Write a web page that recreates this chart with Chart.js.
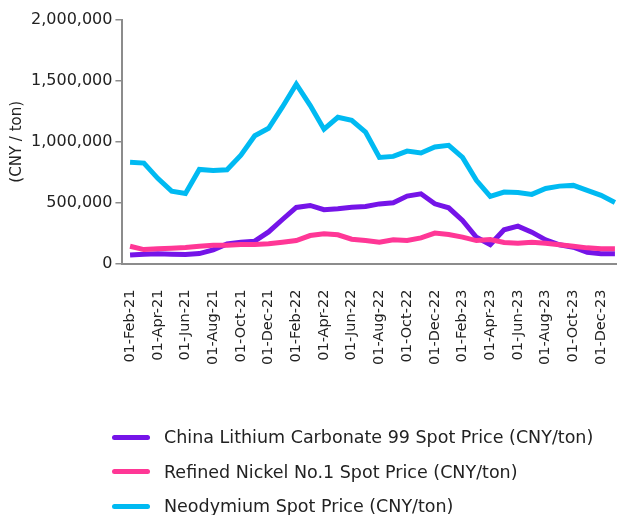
<!DOCTYPE html>
<html>
<head>
<meta charset="utf-8">
<script src="https://cdn.jsdelivr.net/npm/chart.js@4.4.1/dist/chart.umd.min.js"></script>
<style>
    html, body { margin: 0; padding: 0; background: #fff; }
    #wrap { position: relative; width: 617px; height: 515px; }
    #legend { position: absolute; left: 0; top: 420px; width: 617px; font-family: 'DejaVu Sans', sans-serif; font-size: 17.5px; color: #222; }
    .row { display: flex; align-items: center; height: 34.5px; }
    .swatch { width: 38px; height: 5px; border-radius: 3px; margin-left: 112px; margin-right: 14px; }
</style>
</head>
<body>
<div id="wrap">
    <canvas id="chart" width="617" height="515"></canvas>
    <div id="legend"></div>
</div>
<script>
    // Data Store
    const dates = [
        "01-Feb-21", "01-Mar-21", "01-Apr-21", "01-May-21", "01-Jun-21", "01-Jul-21",
        "01-Aug-21", "01-Sep-21", "01-Oct-21", "01-Nov-21", "01-Dec-21", "01-Jan-22",
        "01-Feb-22", "01-Mar-22", "01-Apr-22", "01-May-22", "01-Jun-22", "01-Jul-22",
        "01-Aug-22", "01-Sep-22", "01-Oct-22", "01-Nov-22", "01-Dec-22", "01-Jan-23",
        "01-Feb-23", "01-Mar-23", "01-Apr-23", "01-May-23", "01-Jun-23", "01-Jul-23",
        "01-Aug-23", "01-Sep-23", "01-Oct-23", "01-Nov-23", "01-Dec-23", "01-Jan-24"
    ];

    const lithium = [
        71000, 77000, 80000, 77000, 74000, 82000, 113000, 162000, 175000, 184000, 260000, 362000,
        461000, 477000, 442000, 450000, 463000, 469000, 490000, 500000, 554000, 573000, 491000, 458000,
        354000, 216000, 156000, 277000, 307000, 258000, 195000, 154000, 134000, 93000, 80000, 80000
    ];

    const nickel = [
        142000, 115000, 121000, 126000, 132000, 142000, 151000, 150000, 156000, 156000, 162000, 175000,
        189000, 230000, 244000, 236000, 200000, 189000, 175000, 195000, 189000, 211000, 250000, 239000,
        217000, 189000, 197000, 173000, 167000, 175000, 167000, 154000, 142000, 129000, 121000, 121000
    ];

    const neodymium = [
        831000, 825000, 700000, 595000, 576000, 773000, 765000, 770000, 890000, 1050000, 1111000, 1286000,
        1473000, 1300000, 1103000, 1201000, 1177000, 1080000, 872000, 880000, 924000, 908000, 957000, 971000,
        872000, 683000, 551000, 587000, 584000, 568000, 617000, 636000, 642000, 601000, 560000, 502000
    ];

    const seriesNames = [
        "China Lithium Carbonate 99 Spot Price (CNY/ton)",
        "Refined Nickel No.1 Spot Price (CNY/ton)",
        "Neodymium Spot Price (CNY/ton)"
    ];

    const yTicks = [0, 500000, 1000000, 1500000, 2000000];

    const FONT = "'DejaVu Sans', sans-serif";
    const TEXT = '#222222';
    const AXIS = '#8c8c8c';
    const colors = ['#7514E8', '#FF3796', '#00BAF2'];

    const toPoints = arr => arr.map((v, i) => ({ x: i, y: v }));

    const datasets = [lithium, nickel, neodymium].map((arr, i) => ({
        label: seriesNames[i],
        data: toPoints(arr),
        borderColor: colors[i],
        backgroundColor: colors[i],
        borderWidth: 5,
        pointRadius: 0,
        tension: 0,
        clip: false,
        order: [2, 1, 3][i]
    }));

    const chart = new Chart(document.getElementById('chart'), {
        type: 'line',
        data: { datasets },
        options: {
            responsive: false,
            animation: false,
            layout: { padding: { top: 20, right: 0, bottom: 148, left: 0 } },
            plugins: { legend: { display: false }, tooltip: { enabled: false } },
            scales: {
                x: {
                    type: 'linear',
                    min: -0.55,
                    max: 35.15,
                    // invisible tick marks give the gap between axis and labels
                    grid: { display: true, drawOnChartArea: false, drawTicks: true, tickLength: 24, color: 'rgba(0,0,0,0)' },
                    border: { display: true, color: AXIS, width: 2 },
                    afterBuildTicks: axis => {
                        axis.ticks = dates.map((d, i) => ({ value: i })).filter(t => t.value % 2 === 0);
                    },
                    afterFit: axis => { axis.paddingLeft = 0; axis.paddingRight = 0; },
                    ticks: {
                        autoSkip: false,
                        minRotation: 90,
                        maxRotation: 90,
                        padding: 2,
                        color: TEXT,
                        font: { family: FONT, size: 14.5 },
                        callback: v => dates[v]
                    }
                },
                y: {
                    min: 0,
                    max: 2000000,
                    afterBuildTicks: axis => { axis.ticks = yTicks.map(v => ({ value: v })); },
                    grid: { drawOnChartArea: false, drawTicks: true, tickLength: 7, color: AXIS, lineWidth: 1.5 },
                    border: { display: true, color: AXIS, width: 2 },
                    ticks: {
                        padding: 3,
                        color: TEXT,
                        font: { family: FONT, size: 16 },
                        callback: v => v.toLocaleString('en-US')
                    },
                    title: {
                        display: true,
                        text: '(CNY / ton)',
                        color: TEXT,
                        font: { family: FONT, size: 15 },
                        padding: { top: 8, bottom: 2 }
                    }
                }
            }
        }
    });

    // Legend (vertical list, left aligned)
    const legend = document.getElementById('legend');
    seriesNames.forEach((name, i) => {
        const row = document.createElement('div');
        row.className = 'row';
        row.innerHTML = `<span class="swatch" style="background:${colors[i]}"></span><span>${name}</span>`;
        legend.appendChild(row);
    });
</script>
</body>
</html>
